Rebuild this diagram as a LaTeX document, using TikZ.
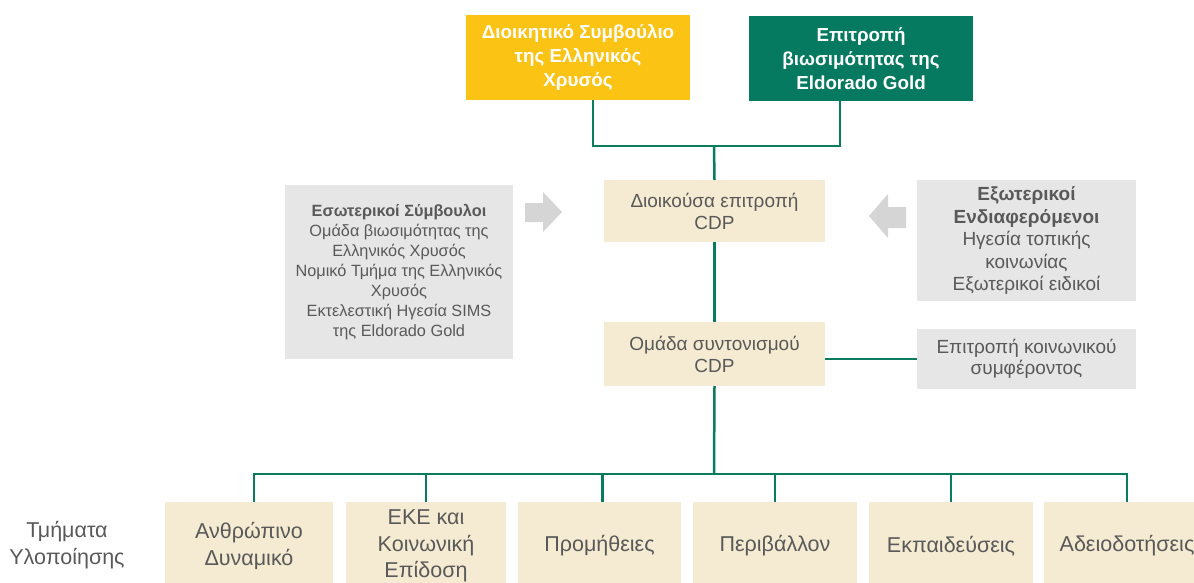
\documentclass[tikz,border=0pt]{standalone}
\usepackage{fontspec}
\setmainfont{Liberation Sans}
\definecolor{gyellow}{HTML}{FBC314}
\definecolor{ggreen}{HTML}{067A60}
\definecolor{gbeige}{HTML}{F5EBD2}
\definecolor{ggray}{HTML}{E6E6E6}
\definecolor{garrow}{HTML}{D5D5D5}
\definecolor{gtext}{HTML}{595959}
\definecolor{gline}{HTML}{0B7B60}
\tikzset{
  base/.style={rectangle, inner sep=0pt, outer sep=0pt, align=center},
  topbox/.style={base, text=white, font=\fontsize{18.8}{24}\selectfont\bfseries},
  midbox/.style={base, fill=gbeige, text=gtext, font=\fontsize{19}{22}\selectfont},
  graybox/.style={base, fill=ggray, text=gtext},
  deptbox/.style={base, fill=gbeige, text=gtext, font=\fontsize{21.5}{26.5}\selectfont, minimum height=88pt},
  link/.style={draw=gline, line width=2.5pt},
  grayarrow/.style={fill=garrow, draw=none}
}
\begin{document}
\begin{tikzpicture}[x=1pt, y=-1pt]
\useasboundingbox (0,0) rectangle (1194,583);
\clip (0,0) rectangle (1194,583);
% top boxes
\node[topbox, fill=gyellow, minimum width=224pt, minimum height=85pt] (board) at (578,57.5)
  {Διοικητικό Συμβούλιο\\της Ελληνικός\\Χρυσός};
\node[topbox, fill=ggreen, minimum width=224pt, minimum height=85pt] (sust) at (861,58.5)
  {Επιτροπή\\βιωσιμότητας της\\Eldorado Gold};
% middle boxes
\node[midbox, minimum width=221pt, minimum height=62pt] (steer) at (714.5,211)
  {Διοικούσα επιτροπή\\CDP};
\node[midbox, minimum width=221pt, minimum height=64pt] (team) at (714.5,354)
  {Ομάδα συντονισμού\\CDP};
% gray boxes
\node[graybox, minimum width=228pt, minimum height=174pt, font=\fontsize{16.3}{20}\selectfont] (internal) at (399,272)
  {\textbf{Εσωτερικοί Σύμβουλοι}\\Ομάδα βιωσιμότητας της\\Ελληνικός Χρυσός\\Νομικό Τμήμα της Ελληνικός\\Χρυσός\\Εκτελεστική Ηγεσία SIMS\\της Eldorado Gold};
\node[graybox, minimum width=219pt, minimum height=121pt, font=\fontsize{19}{22.5}\selectfont] (external) at (1026.5,240.5)
  {\textbf{Εξωτερικοί}\\\textbf{Ενδιαφερόμενοι}\\Ηγεσία τοπικής\\κοινωνίας\\Εξωτερικοί ειδικοί};
\node[graybox, minimum width=219pt, minimum height=60pt, font=\fontsize{19}{21.5}\selectfont] (social) at (1026.5,359)
  {Επιτροπή κοινωνικού\\συμφέροντος};
% arrows
\fill[grayarrow] (525,203) -- (543,203) -- (543,192) -- (562,212) -- (543,232) -- (543,222) -- (525,222) -- cycle;
\fill[grayarrow] (906,207) -- (888,207) -- (888,194) -- (869,216) -- (888,238) -- (888,228) -- (906,228) -- cycle;
% departments
\node[deptbox, minimum width=168pt] (d1) at (249,546) {Ανθρώπινο\\Δυναμικό};
\node[deptbox, minimum width=160pt] (d2) at (426,546) {ΕΚΕ και\\Κοινωνική\\Επίδοση};
\node[deptbox, minimum width=163pt] (d3) at (599.5,546) {Προμήθειες};
\node[deptbox, minimum width=164pt] (d4) at (775,546) {Περιβάλλον};
\node[deptbox, minimum width=164pt] (d5) at (951,546) {Εκπαιδεύσεις};
\node[deptbox, minimum width=166pt] (d6) at (1127,546) {Αδειοδοτήσεις};
\node[base, text=gtext, font=\fontsize{21.5}{27.5}\selectfont] (impl) at (67,545) {Τμήματα\\Υλοποίησης};
% connectors
\coordinate (jtop) at (714,146);
\coordinate (jbot) at (714,474);
\draw[link] ([xshift=15pt]board.south) |- (jtop) -| ([xshift=-21pt]sust.south);
\draw[link] (jtop) -- (steer.north);
\draw[link] (steer.south) -- (team.north);
\draw[link] (social.west) -- (social.west -| team.east);
\draw[link] (team.south) -- (jbot);
\draw[link] ([xshift=5pt]d1.north) |- (jbot) -| (d6.north);
\draw[link] (d2.north) -- (d2.north |- jbot);
\draw[link] ([xshift=3pt]d3.north) -- ([xshift=3pt]d3.north |- jbot);
\draw[link] (d4.north) -- (d4.north |- jbot);
\draw[link] (d5.north) -- (d5.north |- jbot);
\end{tikzpicture}
\end{document}
